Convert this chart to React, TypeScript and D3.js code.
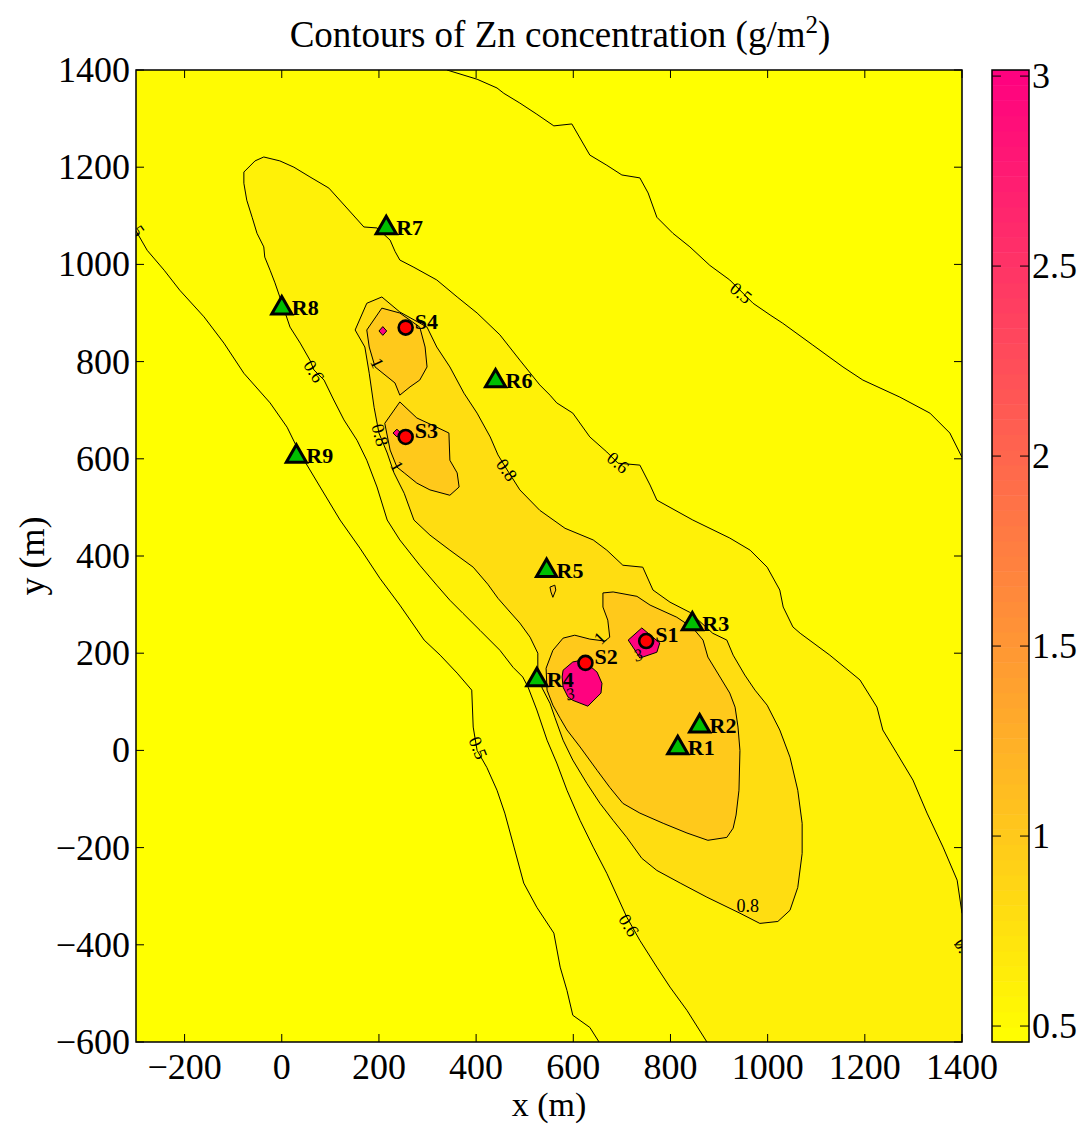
import React from "react";
import * as d3 from "d3";

type P = [number, number];

// ---------- axis & colour data ----------
const xTickValues = [-200, 0, 200, 400, 600, 800, 1000, 1200, 1400];
const yTickValues = [-600, -400, -200, 0, 200, 400, 600, 800, 1000, 1200, 1400];
const colorbarTicks = [0.5, 1, 1.5, 2, 2.5, 3];
const contourLevels = [0.5, 0.6, 0.8, 1, 3];
const dataRange: [number, number] = [0.458, 3.016];

// ---------- contour lines (m, m) ----------
const c05Upper: P[] = [
  [340, 1400], [402, 1381], [443, 1363], [457, 1352], [490, 1332], [525, 1309], [560, 1285],
  [597, 1289], [634, 1225], [669, 1204], [700, 1184], [737, 1178], [754, 1147], [772, 1097],
  [805, 1064], [840, 1036], [881, 998], [922, 968], [970, 920], [1005, 896], [1031, 879],
  [1093, 834], [1155, 789], [1196, 762], [1272, 727], [1334, 694], [1375, 653], [1400, 603],
];
const c05Lower: P[] = [
  [-300, 1069], [-277, 1029], [-242, 988], [-210, 947], [-160, 892], [-119, 838], [-78, 776],
  [-24, 715], [11, 665], [37, 612], [79, 542], [120, 474], [161, 416], [202, 354], [243, 299],
  [293, 227], [326, 196], [361, 159], [391, 124], [394, 48], [402, 0], [422, -35], [443, -82],
  [459, -129], [478, -199], [498, -273], [525, -323], [560, -376], [573, -446], [587, -494],
  [599, -545], [634, -570], [653, -600],
];
const c06: P[] = [
  [875, -600], [834, -535], [799, -487], [772, -446], [737, -391], [710, -343], [669, -253],
  [641, -199], [614, -144], [587, -82], [566, -26], [546, 21], [525, 83], [507, 130], [496, 151],
  [476, 171], [449, 206], [408, 247], [373, 282], [346, 309], [319, 340], [284, 381], [243, 433],
  [217, 474], [196, 542], [175, 597], [155, 638], [128, 680], [107, 721], [87, 762], [66, 783],
  [58, 803], [38, 838], [17, 871], [-4, 933], [-14, 962], [-24, 988], [-35, 1015], [-37, 1036],
  [-51, 1064], [-61, 1097], [-72, 1132], [-78, 1167], [-78, 1190], [-55, 1213], [-37, 1221],
  [-4, 1213], [25, 1200], [58, 1180], [97, 1157], [134, 1116], [169, 1077], [196, 1075],
  [223, 1050], [233, 1027], [243, 1009], [272, 994], [319, 968], [361, 933], [402, 900],
  [449, 855], [490, 803], [531, 752], [552, 731], [566, 715], [599, 694], [634, 645], [669, 614],
  [692, 591], [737, 587], [758, 546], [772, 515], [846, 474], [922, 437], [964, 412], [999, 377],
  [1025, 330], [1032, 295], [1052, 254], [1067, 241], [1128, 196], [1190, 145], [1225, 89],
  [1237, 42], [1266, -6], [1299, -61], [1328, -129], [1361, -199], [1390, -267], [1400, -335],
];
const c08: P[] = [
  [151, 865], [175, 920], [206, 933], [243, 902], [299, 871], [319, 830], [346, 789], [375, 735],
  [402, 694], [429, 645], [445, 608], [464, 577], [490, 536], [531, 494], [583, 457], [641, 433],
  [669, 412], [702, 381], [743, 377], [764, 330], [799, 305], [840, 284], [887, 241], [916, 227],
  [929, 196], [953, 155], [974, 124], [999, 93], [1025, 42], [1046, -14], [1062, -82],
  [1071, -150], [1071, -212], [1062, -282], [1046, -329], [1021, -352], [984, -356], [943, -335],
  [875, -302], [820, -273], [772, -247], [741, -222], [710, -179], [682, -144], [655, -109],
  [628, -68], [599, -20], [579, 21], [562, 68], [552, 97], [536, 128], [527, 165], [527, 200],
  [511, 233], [490, 262], [466, 289], [445, 313], [424, 342], [394, 377], [346, 412], [305, 443],
  [272, 474], [252, 529], [231, 571], [217, 612], [200, 653], [190, 706], [180, 776], [171, 830],
];
const c1Main: P[] = [
  [661, 324], [682, 326], [731, 317], [758, 299], [813, 274], [846, 252], [867, 227], [877, 192],
  [902, 151], [922, 118], [933, 89], [939, 48], [943, 0], [941, -82], [935, -133], [929, -160],
  [916, -179], [877, -185], [834, -170], [785, -150], [737, -129], [702, -109], [675, -76],
  [649, -41], [614, 7], [587, 42], [573, 66], [558, 93], [546, 124], [544, 169], [558, 206],
  [579, 231], [603, 237], [634, 229], [665, 225], [675, 233], [671, 268], [661, 295],
];
const c1S4: P[] = [
  [175, 865], [206, 910], [243, 900], [284, 871], [295, 830], [299, 789], [284, 762], [264, 748],
  [243, 731], [233, 756], [192, 789], [180, 830],
];
const c1S3: P[] = [
  [212, 673], [243, 717], [278, 684], [319, 665], [344, 653], [346, 597], [361, 571], [365, 542],
  [346, 525], [305, 536], [278, 550], [252, 571], [237, 583], [223, 618],
];
const c1R5: P[] = [[552, 336], [562, 340], [564, 330], [558, 315], [554, 326]];
const c3S2: P[] = [
  [579, 165], [599, 182], [620, 186], [649, 161], [659, 138], [657, 118], [630, 91], [599, 103],
  [589, 110], [579, 130], [577, 151],
];
const c3S1: P[] = [[713, 227], [741, 252], [778, 221], [772, 202], [737, 190], [727, 206]];
const c3S4: P[] = [[200, 863], [208, 872], [216, 863], [208, 854]];
const c3S3: P[] = [[229, 653], [237, 661], [245, 653], [237, 645]];

// contour labels: text, x, y, rotation
const contourLabelText = ["0.5", "0.6", "0.6", "0.5", "0.6", "0.8", "0.8", "0.8", "1", "1", "1", "3", "3", "0.5", "0.6"];
const contourLabelX = [945, 692, 66, 404, 714, 959, 202, 463, 196, 237, 655, 594, 734, -304, 1405];
const contourLabelY = [941, 592, 780, 5, -360, -320, 649, 577, 797, 585, 231, 116, 196, 1080, -410];
const contourLabelAngle = [40, 40, 58, 68, 58, 0, 75, 55, 65, 60, -45, -15, -20, 55, 60];

// ---------- sites ----------
const sourceNames = ["S1", "S2", "S3", "S4"];
const sourceX = [750, 625, 255, 255];
const sourceY = [225, 180, 645, 870];
const receptorNames = ["R1", "R2", "R3", "R4", "R5", "R6", "R7", "R8", "R9"];
const receptorX = [815, 860, 845, 525, 545, 440, 215, 0, 30];
const receptorY = [5, 50, 260, 145, 370, 760, 1075, 910, 605];

const FONT = "'Liberation Serif', 'Times New Roman', Times, serif";

export default function App() {
  const W = 1086;
  const H = 1124;
  const left = 136, right = 962, top = 70, bottom = 1042;
  const x = d3.scaleLinear().domain([-300, 1400]).range([left, right]);
  const y = d3.scaleLinear().domain([-600, 1400]).range([bottom, top]);
  const color = d3
    .scaleLinear<string>()
    .domain(dataRange)
    .range(["#ffff00", "#ff0080"])
    .interpolate(d3.interpolateRgb);
  const line = d3.line<P>().x((d) => x(d[0])).y((d) => y(d[1]));
  const closed = (pts: P[]) => (line(pts) || "") + "Z";

  const region05: P[] = [...c05Lower, [1400, -600], ...[...c05Upper].reverse(), [-300, 1400]];
  const region06: P[] = [...c06, [1400, -600]];

  const fills: { d: string; c: string }[] = [
    { d: closed(region05), c: color(contourLevels[0]) },
    { d: closed(region06), c: color(contourLevels[1]) },
    { d: closed(c08), c: color(contourLevels[2]) },
    { d: closed(c1Main), c: color(contourLevels[3]) },
    { d: closed(c1S4), c: color(contourLevels[3]) },
    { d: closed(c1S3), c: color(contourLevels[3]) },
    { d: closed(c1R5), c: color(contourLevels[3]) },
    { d: closed(c3S2), c: color(contourLevels[4]) },
    { d: closed(c3S1), c: color(contourLevels[4]) },
    { d: closed(c3S4), c: color(contourLevels[4]) },
    { d: closed(c3S3), c: color(contourLevels[4]) },
  ];
  const strokes: string[] = [
    line(c05Upper) || "",
    line(c05Lower) || "",
    line(c06) || "",
    closed(c08),
    closed(c1Main),
    closed(c1S4),
    closed(c1S3),
    closed(c1R5),
    closed(c3S2),
    closed(c3S1),
    closed(c3S4),
    closed(c3S3),
  ];

  // colorbar
  const cbLeft = 992, cbRight = 1029;
  const yc = d3.scaleLinear().domain(dataRange).range([bottom, top]);
  const nColors = 64;
  const cbSteps = d3.range(nColors).map((i) => {
    const v0 = dataRange[0] + ((dataRange[1] - dataRange[0]) * i) / nColors;
    const v1 = dataRange[0] + ((dataRange[1] - dataRange[0]) * (i + 1)) / nColors;
    return { v0, v1, c: color((v0 + v1) / 2) };
  });

  const tri = d3.symbol().type(d3.symbolTriangle).size(175)() || "";
  const fmt = (v: number) => (v < 0 ? "\u2212" + Math.abs(v) : String(v));
  const tickLen = 8;
  const fs = 36;

  return (
    <svg
      width={W}
      height={H}
      viewBox={`0 0 ${W} ${H}`}
      style={{ position: "absolute", left: 0, top: 0, background: "#fff" }}
      fontFamily={FONT}
    >
      <defs>
        <clipPath id="plotClip">
          <rect x={left} y={top} width={right - left} height={bottom - top} />
        </clipPath>
      </defs>
      <rect x={0} y={0} width={W} height={H} fill="#fff" />

      <g clipPath="url(#plotClip)">
        <rect x={left} y={top} width={right - left} height={bottom - top} fill={color(dataRange[0])} />
        {fills.map((f, i) => (
          <path key={"f" + i} d={f.d} fill={f.c} stroke="none" />
        ))}
        {strokes.map((d, i) => (
          <path key={"s" + i} d={d} fill="none" stroke="#000" strokeWidth={1} strokeLinejoin="round" />
        ))}
        {contourLabelText.map((t, i) => (
          <text
            key={"cl" + i}
            transform={`translate(${x(contourLabelX[i])},${y(contourLabelY[i])}) rotate(${contourLabelAngle[i]})`}
            textAnchor="middle"
            dominantBaseline="central"
            fontSize={t === "3" ? 17 : 18}
            fontStyle={t === "3" ? "italic" : "normal"}
            fill="#000"
          >
            {t}
          </text>
        ))}
      </g>

      {/* receptors */}
      {receptorNames.map((n, i) => (
        <g key={n}>
          <path
            d={tri}
            transform={`translate(${x(receptorX[i])},${y(receptorY[i])})`}
            fill="#00bf00"
            stroke="#000"
            strokeWidth={3}
            strokeLinejoin="miter"
          />
          <text
            x={x(receptorX[i]) + 10}
            y={y(receptorY[i]) + 7}
            fontSize={22}
            fontWeight="bold"
            fill="#000"
          >
            {n}
          </text>
        </g>
      ))}
      {/* sources */}
      {sourceNames.map((n, i) => (
        <g key={n}>
          <circle cx={x(sourceX[i])} cy={y(sourceY[i])} r={7} fill="#ff0000" stroke="#000" strokeWidth={2.6} />
          <text x={x(sourceX[i]) + 9} y={y(sourceY[i]) + 1} fontSize={22} fontWeight="bold" fill="#000">
            {n}
          </text>
        </g>
      ))}

      {/* axes box */}
      <rect x={left} y={top} width={right - left} height={bottom - top} fill="none" stroke="#000" strokeWidth={1.5} />
      {xTickValues.map((v) => (
        <g key={"xt" + v}>
          <line x1={x(v)} x2={x(v)} y1={bottom} y2={bottom - tickLen} stroke="#000" strokeWidth={1} />
          <line x1={x(v)} x2={x(v)} y1={top} y2={top + tickLen} stroke="#000" strokeWidth={1} />
          <text x={x(v)} y={bottom + 37} textAnchor="middle" fontSize={fs} fill="#000">
            {fmt(v)}
          </text>
        </g>
      ))}
      {yTickValues.map((v) => (
        <g key={"yt" + v}>
          <line x1={left} x2={left + tickLen} y1={y(v)} y2={y(v)} stroke="#000" strokeWidth={1} />
          <line x1={right} x2={right - tickLen} y1={y(v)} y2={y(v)} stroke="#000" strokeWidth={1} />
          <text x={left - 6} y={y(v) + 12} textAnchor="end" fontSize={fs} fill="#000">
            {fmt(v)}
          </text>
        </g>
      ))}
      <text x={(left + right) / 2} y={1116} textAnchor="middle" fontSize={34} fill="#000">
        x (m)
      </text>
      <text transform={`translate(44,${(top + bottom) / 2}) rotate(-90)`} textAnchor="middle" fontSize={fs} fill="#000">
        y (m)
      </text>
      <text x={560} y={47} textAnchor="middle" fontSize={37} fill="#000">
        Contours of Zn concentration (g/m
        <tspan dy={-14} fontSize={25}>2</tspan>
        <tspan dy={14}>)</tspan>
      </text>

      {/* colorbar */}
      {cbSteps.map((s, i) => (
        <rect
          key={"cb" + i}
          x={cbLeft}
          y={yc(s.v1)}
          width={cbRight - cbLeft}
          height={yc(s.v0) - yc(s.v1) + 0.5}
          fill={s.c}
        />
      ))}
      <rect x={cbLeft} y={top} width={cbRight - cbLeft} height={bottom - top} fill="none" stroke="#000" strokeWidth={1.5} />
      {colorbarTicks.map((v) => (
        <g key={"cbt" + v}>
          <line x1={cbLeft} x2={cbLeft + 9} y1={yc(v)} y2={yc(v)} stroke="#000" strokeWidth={1} />
          <line x1={cbRight} x2={cbRight - 9} y1={yc(v)} y2={yc(v)} stroke="#000" strokeWidth={1} />
          <text x={cbRight + 3} y={yc(v) + 12} fontSize={fs} fill="#000">
            {v}
          </text>
        </g>
      ))}
    </svg>
  );
}
